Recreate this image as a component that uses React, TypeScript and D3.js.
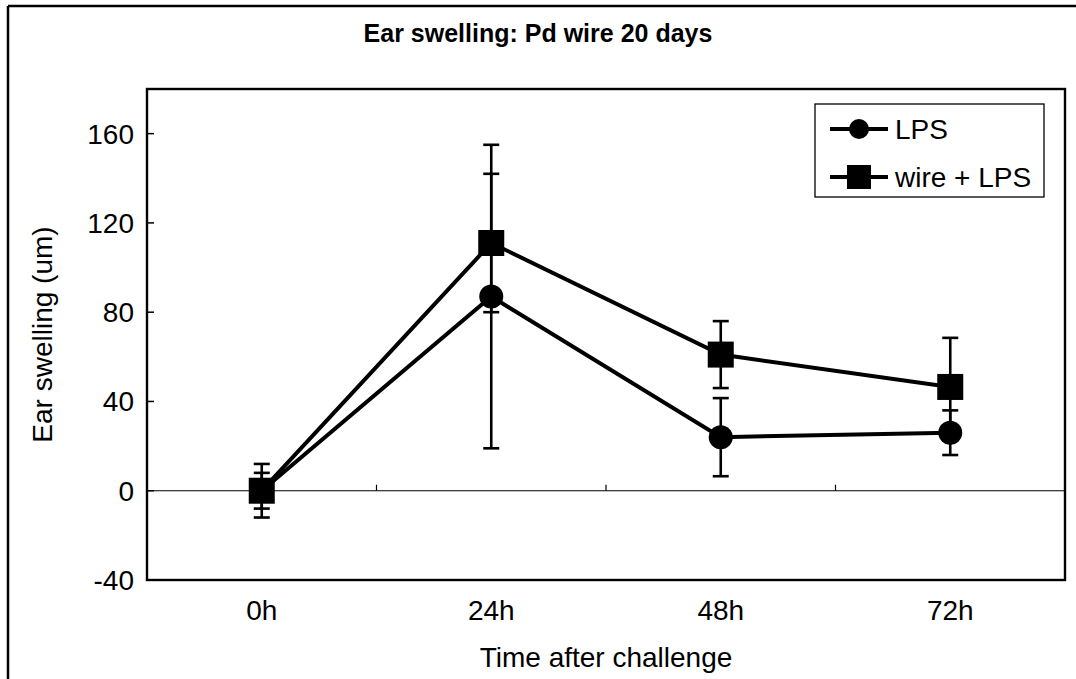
import React from "react";
import * as d3 from "d3";

const categories = ["0h", "24h", "48h", "72h"];
const lpsValues = [0, 87, 24, 26];
const lpsErrors = [12, 68, 17.5, 10];
const wireValues = [0, 111, 61, 46.5];
const wireErrors = [8, 31, 15, 22];
const yTicks = [-40, 0, 40, 80, 120, 160];
const seriesNames = ["LPS", "wire + LPS"];

const W = 1076;
const H = 679;
const plot = { left: 147, right: 1065, top: 89, bottom: 580 };
const FONT = "'Liberation Sans', Arial, sans-serif";

export default function App() {
  const x = d3.scaleBand<string>().domain(categories).range([plot.left, plot.right]);
  const cx = (c: string) => (x(c) as number) + x.bandwidth() / 2;
  const y = d3.scaleLinear().domain([-40, 180]).range([plot.bottom, plot.top]);
  const line = d3
    .line<number>()
    .x((_, i) => cx(categories[i]))
    .y((d) => y(d));

  const errBars = (vals: number[], errs: number[], key: string) =>
    vals.map((v, i) => {
      const px = cx(categories[i]);
      const y1 = y(v + errs[i]);
      const y2 = y(v - errs[i]);
      return (
        <g key={key + i} stroke="#000" strokeWidth={2.6}>
          <line x1={px} x2={px} y1={y1} y2={y2} />
          <line x1={px - 8} x2={px + 8} y1={y1} y2={y1} />
          <line x1={px - 8} x2={px + 8} y1={y2} y2={y2} />
        </g>
      );
    });

  const zeroY = y(0);
  const boundaries = categories.slice(1).map((c) => x(c) as number);

  return (
    <div style={{ position: "fixed", left: 0, top: 0, width: W, height: H, background: "#fff" }}>
      <svg width={W} height={H} style={{ display: "block" }}>
        <rect x={0} y={0} width={W} height={H} fill="#fff" />
        {/* outer frame */}
        <line x1={8} x2={W} y1={6} y2={6} stroke="#000" strokeWidth={2.5} />
        <line x1={8} x2={8} y1={6} y2={H} stroke="#000" strokeWidth={2.5} />

        <text x={538} y={42} textAnchor="middle" fontFamily={FONT} fontWeight="bold" fontSize={25}>
          Ear swelling: Pd wire 20 days
        </text>

        {/* zero line */}
        <line x1={plot.left} x2={plot.right} y1={zeroY} y2={zeroY} stroke="#000" strokeWidth={1.2} />
        {boundaries.map((bx, i) => (
          <line key={"xt" + i} x1={bx} x2={bx} y1={zeroY} y2={zeroY - 6} stroke="#000" strokeWidth={1.2} />
        ))}

        {/* plot border */}
        <rect
          x={plot.left}
          y={plot.top}
          width={plot.right - plot.left}
          height={plot.bottom - plot.top}
          fill="none"
          stroke="#000"
          strokeWidth={2.4}
        />

        {/* y ticks */}
        {yTicks.map((t) => (
          <g key={"yt" + t}>
            <line x1={plot.left} x2={plot.left + 7} y1={y(t)} y2={y(t)} stroke="#000" strokeWidth={1.5} />
            <text x={134} y={y(t) + 10} textAnchor="end" fontFamily={FONT} fontSize={28}>
              {t}
            </text>
          </g>
        ))}

        {/* x labels */}
        {categories.map((c) => (
          <text key={"xl" + c} x={cx(c)} y={620} textAnchor="middle" fontFamily={FONT} fontSize={28}>
            {c}
          </text>
        ))}

        <text x={(plot.left + plot.right) / 2} y={667} textAnchor="middle" fontFamily={FONT} fontSize={28}>
          Time after challenge
        </text>
        <text
          transform={`translate(52, ${(plot.top + plot.bottom) / 2}) rotate(-90)`}
          textAnchor="middle"
          fontFamily={FONT}
          fontSize={28}
        >
          Ear swelling (um)
        </text>

        {/* LPS series */}
        <path d={line(lpsValues) as string} fill="none" stroke="#000" strokeWidth={4} />
        {errBars(lpsValues, lpsErrors, "le")}
        {lpsValues.map((v, i) => (
          <circle key={"lc" + i} cx={cx(categories[i])} cy={y(v)} r={12} fill="#000" />
        ))}

        {/* wire + LPS series */}
        <path d={line(wireValues) as string} fill="none" stroke="#000" strokeWidth={4} />
        {errBars(wireValues, wireErrors, "we")}
        {wireValues.map((v, i) => (
          <rect key={"ws" + i} x={cx(categories[i]) - 13} y={y(v) - 13} width={26} height={26} fill="#000" />
        ))}

        {/* legend */}
        <rect x={815} y={104} width={229} height={93} fill="#fff" stroke="#000" strokeWidth={1.3} />
        <line x1={830} x2={888} y1={129} y2={129} stroke="#000" strokeWidth={4} />
        <circle cx={859} cy={129} r={10} fill="#000" />
        <text x={895} y={139} fontFamily={FONT} fontSize={28}>
          {seriesNames[0]}
        </text>
        <line x1={830} x2={888} y1={177} y2={177} stroke="#000" strokeWidth={4} />
        <rect x={847} y={165} width={24} height={24} fill="#000" />
        <text x={895} y={187} fontFamily={FONT} fontSize={28}>
          {seriesNames[1]}
        </text>
      </svg>
    </div>
  );
}
